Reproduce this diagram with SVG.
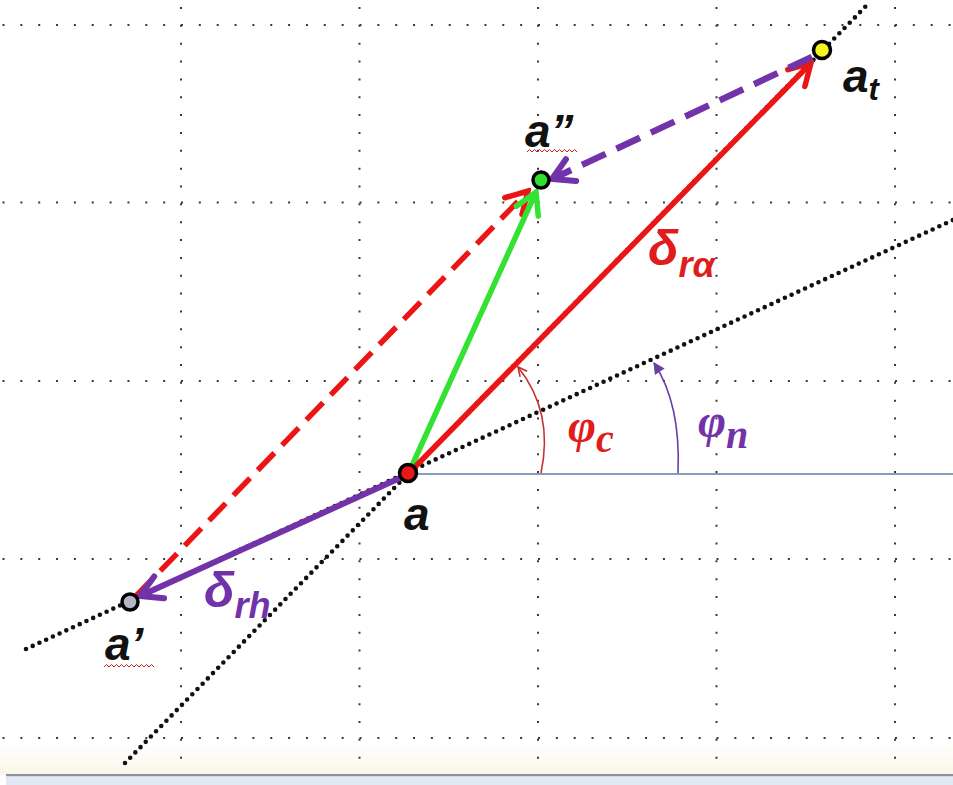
<svg xmlns="http://www.w3.org/2000/svg" width="953" height="785" viewBox="0 0 953 785">
<defs>
<style>
.grid{stroke:#3a3a3a;stroke-width:2;stroke-dasharray:2 15.85;fill:none}
.cons{stroke:#111111;stroke-width:4.6;stroke-linecap:round;stroke-dasharray:0 7.4;fill:none}
.lbl{font-family:"Liberation Sans",Arial,sans-serif;font-weight:bold;font-style:italic;fill:#111}
.gk{font-family:"Liberation Sans",Arial,sans-serif;font-weight:bold;font-style:italic}
.ph{font-family:"Liberation Serif","Times New Roman",serif;font-weight:bold;font-style:italic}
.pt{stroke:#000;stroke-width:3.5}
.sq{fill:none;stroke:#d02020;stroke-width:1}
</style>
<linearGradient id="bot" x1="0" y1="0" x2="0" y2="1">
<stop offset="0" stop-color="#ffffff"/>
<stop offset="1" stop-color="#faf6e8"/>
</linearGradient>
<marker id="mR" markerUnits="userSpaceOnUse" viewBox="-26 -16 30 32" markerWidth="30" markerHeight="32" refX="0" refY="0" orient="auto">
<path d="M-21,-12 L0,0 L-21,12" fill="none" stroke="#ec1515" stroke-width="5.5" stroke-linecap="round" stroke-linejoin="miter"/>
</marker>
<marker id="mG" markerUnits="userSpaceOnUse" viewBox="-26 -16 30 32" markerWidth="30" markerHeight="32" refX="0" refY="0" orient="auto">
<path d="M-21,-12 L0,0 L-21,12" fill="none" stroke="#33e233" stroke-width="5.5" stroke-linecap="round"/>
</marker>
<marker id="mP" markerUnits="userSpaceOnUse" viewBox="-26 -16 30 32" markerWidth="30" markerHeight="32" refX="0" refY="0" orient="auto">
<path d="M-21,-12 L0,0 L-21,12" fill="none" stroke="#7232a8" stroke-width="6" stroke-linecap="round"/>
</marker>
<marker id="mRa" markerUnits="userSpaceOnUse" viewBox="-12 -8 14 16" markerWidth="14" markerHeight="16" refX="0" refY="0" orient="auto">
<path d="M-9,-4.5 L0,0 L-9,4.5" fill="none" stroke="#c83030" stroke-width="1.6"/>
</marker>
<marker id="mPa" markerUnits="userSpaceOnUse" viewBox="-12 -8 14 16" markerWidth="14" markerHeight="16" refX="0" refY="0" orient="auto">
<path d="M-10,-5 L0,0 L-10,5 Z" fill="#6a40a8" stroke="#6a40a8" stroke-width="1"/>
</marker>
</defs>
<rect x="0" y="0" width="953" height="785" fill="#ffffff"/>
<rect x="0" y="742" width="953" height="33" fill="url(#bot)"/>
<g id="grid">
<line class="grid" x1="2.5" y1="25" x2="953" y2="25"/>
<line class="grid" x1="2.5" y1="202.5" x2="953" y2="202.5"/>
<line class="grid" x1="2.5" y1="381" x2="953" y2="381"/>
<line class="grid" x1="2.5" y1="559" x2="953" y2="559"/>
<line class="grid" x1="2.5" y1="738" x2="953" y2="738"/>
<line class="grid" x1="181" y1="7" x2="181" y2="775"/>
<line class="grid" x1="359.5" y1="7" x2="359.5" y2="775"/>
<line class="grid" x1="538" y1="7" x2="538" y2="775"/>
<line class="grid" x1="716.5" y1="7" x2="716.5" y2="775"/>
<line class="grid" x1="895" y1="7" x2="895" y2="775"/>
</g>
<rect x="6" y="774" width="947" height="2.5" fill="#8c939c"/>
<rect x="6" y="776.5" width="947" height="9" fill="#e1e9f5"/>
<g id="construction">
<line class="cons" x1="125" y1="763" x2="869" y2="3"/>
<line class="cons" x1="26" y1="649" x2="953" y2="220"/>
<line x1="408" y1="474" x2="953" y2="474" stroke="#869fb8" stroke-width="2"/>
</g>
<g id="connectors">
<line x1="136" y1="596" x2="528" y2="191" stroke="#ec1515" stroke-width="5.5" stroke-dasharray="24 11" marker-end="url(#mR)"/>
<line x1="410" y1="470" x2="536" y2="192" stroke="#33e233" stroke-width="5.5" marker-end="url(#mG)"/>
<line x1="412" y1="470" x2="811" y2="63" stroke="#ec1515" stroke-width="5.5" marker-end="url(#mR)"/>
<line x1="812" y1="57" x2="552" y2="179" stroke="#7232a8" stroke-width="6.5" stroke-dasharray="26 12" marker-end="url(#mP)"/>
<line x1="402" y1="477" x2="140" y2="596" stroke="#7232a8" stroke-width="6" marker-end="url(#mP)"/>
<path d="M541,473 Q554,412 518,367" fill="none" stroke="#c83030" stroke-width="1.6" marker-end="url(#mRa)"/>
<path d="M678,473 Q681,404 654,363" fill="none" stroke="#6a40a8" stroke-width="1.6" marker-end="url(#mPa)"/>
</g>
<g id="node-a">
<circle class="pt" cx="408" cy="473" r="8.5" fill="#e81818"/>
<text class="lbl" x="404" y="530" font-size="46">a</text>
</g>
<g id="node-a2">
<circle class="pt" cx="541" cy="180" r="8" fill="#2fe02f"/>
<text class="lbl" x="525" y="147" font-size="46">a”</text>
<path class="sq" d="M527,152 l2.5,-2.5 l2.5,2.5 l2.5,-2.5 l2.5,2.5 l2.5,-2.5 l2.5,2.5 l2.5,-2.5 l2.5,2.5 l2.5,-2.5 l2.5,2.5 l2.5,-2.5 l2.5,2.5 l2.5,-2.5 l2.5,2.5 l2.5,-2.5 l2.5,2.5 l2.5,-2.5 l2.5,2.5 l2.5,-2.5 l2.5,2.5"/>
</g>
<g id="node-at">
<circle class="pt" cx="822" cy="50" r="8.5" fill="#f4f424"/>
<text class="lbl" x="843" y="92" font-size="46">a<tspan font-size="31" dy="8">t</tspan></text>
</g>
<g id="node-a1">
<circle class="pt" cx="130" cy="602" r="8" fill="#b4b4c4"/>
<text class="lbl" x="105" y="660" font-size="46">a’</text>
<path class="sq" d="M104,667 l2.5,-2.5 l2.5,2.5 l2.5,-2.5 l2.5,2.5 l2.5,-2.5 l2.5,2.5 l2.5,-2.5 l2.5,2.5 l2.5,-2.5 l2.5,2.5 l2.5,-2.5 l2.5,2.5 l2.5,-2.5 l2.5,2.5 l2.5,-2.5 l2.5,2.5 l2.5,-2.5 l2.5,2.5 l2.5,-2.5 l2.5,2.5"/>
</g>
<g id="labels">
<text class="gk" x="648" y="265" font-size="50" fill="#e01c1c">δ<tspan font-size="36" dy="12">rα</tspan></text>
<text class="gk" x="204" y="607" font-size="50" fill="#7232a8">δ<tspan font-size="36" dy="11">rh</tspan></text>
<text class="ph" x="568" y="442" font-size="48" fill="#e01c1c">φ<tspan font-size="40" dy="10">c</tspan></text>
<text class="ph" x="698" y="437" font-size="48" fill="#7232a8">φ<tspan font-size="40" dy="11">n</tspan></text>
</g>
</svg>
